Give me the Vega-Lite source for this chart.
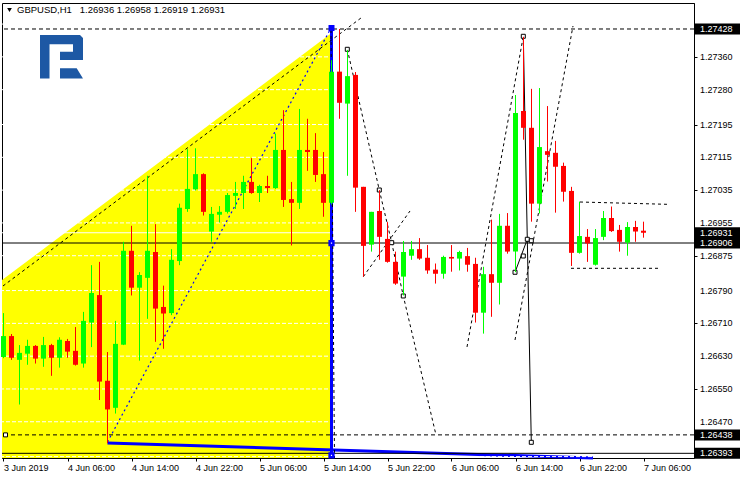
{
  "$schema": "https://vega.github.io/schema/vega-lite/v6.json",
  "width": 692,
  "height": 455,
  "autosize": "none",
  "padding": {"left": 2, "top": 3, "right": 46, "bottom": 22},
  "background": "#ffffff",
  "config": {
    "view": {"stroke": "#000000", "strokeWidth": 1},
    "font": "Liberation Sans"
  },
  "title": {
    "text": "GBPUSD,H1\u00a0\u00a0 1.26936 1.26958 1.26919 1.26931",
    "anchor": "start",
    "frame": "group",
    "offset": 0,
    "dy": 19.5,
    "dx": 15,
    "baseline": "alphabetic",
    "font": "Liberation Sans",
    "fontSize": 9.5,
    "fontWeight": "normal",
    "color": "#000000"
  },
  "datasets": {
    "candles": [
      {"k": 0, "time": "2019-06-03 22:00", "o": 1.26628, "h": 1.26735, "l": 1.26625, "c": 1.26679},
      {"k": 1, "time": "2019-06-03 23:00", "o": 1.26679, "h": 1.26684, "l": 1.26621, "c": 1.26626},
      {"k": 2, "time": "2019-06-04 00:00", "o": 1.26621, "h": 1.26657, "l": 1.26512, "c": 1.26638},
      {"k": 3, "time": "2019-06-04 01:00", "o": 1.26636, "h": 1.26670, "l": 1.26609, "c": 1.26655},
      {"k": 4, "time": "2019-06-04 02:00", "o": 1.26655, "h": 1.26657, "l": 1.26612, "c": 1.26624},
      {"k": 5, "time": "2019-06-04 03:00", "o": 1.26624, "h": 1.26677, "l": 1.26604, "c": 1.26657},
      {"k": 6, "time": "2019-06-04 04:00", "o": 1.26657, "h": 1.26660, "l": 1.26582, "c": 1.26626},
      {"k": 7, "time": "2019-06-04 05:00", "o": 1.26626, "h": 1.26676, "l": 1.26602, "c": 1.26670},
      {"k": 8, "time": "2019-06-04 06:00", "o": 1.26667, "h": 1.26672, "l": 1.26626, "c": 1.26641},
      {"k": 9, "time": "2019-06-04 07:00", "o": 1.26643, "h": 1.26701, "l": 1.26607, "c": 1.26609},
      {"k": 10, "time": "2019-06-04 08:00", "o": 1.26612, "h": 1.26738, "l": 1.26602, "c": 1.26716},
      {"k": 11, "time": "2019-06-04 09:00", "o": 1.26712, "h": 1.26852, "l": 1.26652, "c": 1.26784},
      {"k": 12, "time": "2019-06-04 10:00", "o": 1.26779, "h": 1.26860, "l": 1.26523, "c": 1.26568},
      {"k": 13, "time": "2019-06-04 11:00", "o": 1.26570, "h": 1.26640, "l": 1.26418, "c": 1.26500},
      {"k": 14, "time": "2019-06-04 12:00", "o": 1.26504, "h": 1.26716, "l": 1.26490, "c": 1.26660},
      {"k": 15, "time": "2019-06-04 13:00", "o": 1.26658, "h": 1.26909, "l": 1.26657, "c": 1.26887},
      {"k": 16, "time": "2019-06-04 14:00", "o": 1.26887, "h": 1.26948, "l": 1.26778, "c": 1.26797},
      {"k": 17, "time": "2019-06-04 15:00", "o": 1.26797, "h": 1.26835, "l": 1.26619, "c": 1.26828},
      {"k": 18, "time": "2019-06-04 16:00", "o": 1.26821, "h": 1.27070, "l": 1.26721, "c": 1.26887},
      {"k": 19, "time": "2019-06-04 17:00", "o": 1.26884, "h": 1.26952, "l": 1.26665, "c": 1.26746},
      {"k": 20, "time": "2019-06-04 18:00", "o": 1.26750, "h": 1.26802, "l": 1.26648, "c": 1.26734},
      {"k": 21, "time": "2019-06-04 19:00", "o": 1.26735, "h": 1.26891, "l": 1.26730, "c": 1.26865},
      {"k": 22, "time": "2019-06-04 20:00", "o": 1.26862, "h": 1.27002, "l": 1.26852, "c": 1.26992},
      {"k": 23, "time": "2019-06-04 21:00", "o": 1.26989, "h": 1.27135, "l": 1.26982, "c": 1.27038},
      {"k": 24, "time": "2019-06-04 22:00", "o": 1.27037, "h": 1.27137, "l": 1.27034, "c": 1.27074},
      {"k": 25, "time": "2019-06-04 23:00", "o": 1.27074, "h": 1.27076, "l": 1.26973, "c": 1.26982},
      {"k": 26, "time": "2019-06-05 00:00", "o": 1.26934, "h": 1.26994, "l": 1.26909, "c": 1.26977},
      {"k": 27, "time": "2019-06-05 01:00", "o": 1.26975, "h": 1.26996, "l": 1.26956, "c": 1.26982},
      {"k": 28, "time": "2019-06-05 02:00", "o": 1.26982, "h": 1.27028, "l": 1.26978, "c": 1.27023},
      {"k": 29, "time": "2019-06-05 03:00", "o": 1.27021, "h": 1.27055, "l": 1.26989, "c": 1.27028},
      {"k": 30, "time": "2019-06-05 04:00", "o": 1.27028, "h": 1.27070, "l": 1.26989, "c": 1.27055},
      {"k": 31, "time": "2019-06-05 05:00", "o": 1.27055, "h": 1.27113, "l": 1.27026, "c": 1.27028},
      {"k": 32, "time": "2019-06-05 06:00", "o": 1.27028, "h": 1.27048, "l": 1.27006, "c": 1.27045},
      {"k": 33, "time": "2019-06-05 07:00", "o": 1.27045, "h": 1.27070, "l": 1.27028, "c": 1.27040},
      {"k": 34, "time": "2019-06-05 08:00", "o": 1.27040, "h": 1.27173, "l": 1.27038, "c": 1.27133},
      {"k": 35, "time": "2019-06-05 09:00", "o": 1.27133, "h": 1.27230, "l": 1.26994, "c": 1.27011},
      {"k": 36, "time": "2019-06-05 10:00", "o": 1.27013, "h": 1.27055, "l": 1.26900, "c": 1.27004},
      {"k": 37, "time": "2019-06-05 11:00", "o": 1.27004, "h": 1.27233, "l": 1.26989, "c": 1.27133},
      {"k": 38, "time": "2019-06-05 12:00", "o": 1.27133, "h": 1.27209, "l": 1.27082, "c": 1.27128},
      {"k": 39, "time": "2019-06-05 13:00", "o": 1.27133, "h": 1.27174, "l": 1.27055, "c": 1.27072},
      {"k": 40, "time": "2019-06-05 14:00", "o": 1.27074, "h": 1.27128, "l": 1.26970, "c": 1.27004},
      {"k": 41, "time": "2019-06-05 15:00", "o": 1.27004, "h": 1.27352, "l": 1.27000, "c": 1.27324},
      {"k": 42, "time": "2019-06-05 16:00", "o": 1.27324, "h": 1.27428, "l": 1.27209, "c": 1.27248},
      {"k": 43, "time": "2019-06-05 17:00", "o": 1.27246, "h": 1.27377, "l": 1.27070, "c": 1.27313},
      {"k": 44, "time": "2019-06-05 18:00", "o": 1.27316, "h": 1.27323, "l": 1.26982, "c": 1.27041},
      {"k": 45, "time": "2019-06-05 19:00", "o": 1.27043, "h": 1.27043, "l": 1.26824, "c": 1.26899},
      {"k": 46, "time": "2019-06-05 20:00", "o": 1.26902, "h": 1.26982, "l": 1.26885, "c": 1.26982},
      {"k": 47, "time": "2019-06-05 21:00", "o": 1.26984, "h": 1.27035, "l": 1.26865, "c": 1.26921},
      {"k": 48, "time": "2019-06-05 22:00", "o": 1.26916, "h": 1.26957, "l": 1.26858, "c": 1.26860},
      {"k": 49, "time": "2019-06-05 23:00", "o": 1.26860, "h": 1.26885, "l": 1.26804, "c": 1.26807},
      {"k": 50, "time": "2019-06-06 00:00", "o": 1.26824, "h": 1.26911, "l": 1.26778, "c": 1.26884},
      {"k": 51, "time": "2019-06-06 01:00", "o": 1.26875, "h": 1.26911, "l": 1.26865, "c": 1.26891},
      {"k": 52, "time": "2019-06-06 02:00", "o": 1.26891, "h": 1.26918, "l": 1.26865, "c": 1.26868},
      {"k": 53, "time": "2019-06-06 03:00", "o": 1.26870, "h": 1.26901, "l": 1.26831, "c": 1.26839},
      {"k": 54, "time": "2019-06-06 04:00", "o": 1.26841, "h": 1.26856, "l": 1.26807, "c": 1.26831},
      {"k": 55, "time": "2019-06-06 05:00", "o": 1.26831, "h": 1.26875, "l": 1.26819, "c": 1.26872},
      {"k": 56, "time": "2019-06-06 06:00", "o": 1.26872, "h": 1.26901, "l": 1.26836, "c": 1.26868},
      {"k": 57, "time": "2019-06-06 07:00", "o": 1.26868, "h": 1.26887, "l": 1.26839, "c": 1.26884},
      {"k": 58, "time": "2019-06-06 08:00", "o": 1.26874, "h": 1.26894, "l": 1.26836, "c": 1.26853},
      {"k": 59, "time": "2019-06-06 09:00", "o": 1.26855, "h": 1.26870, "l": 1.26712, "c": 1.26736},
      {"k": 60, "time": "2019-06-06 10:00", "o": 1.26736, "h": 1.26848, "l": 1.26685, "c": 1.26830},
      {"k": 61, "time": "2019-06-06 11:00", "o": 1.26830, "h": 1.26963, "l": 1.26726, "c": 1.26809},
      {"k": 62, "time": "2019-06-06 12:00", "o": 1.26809, "h": 1.26977, "l": 1.26756, "c": 1.26948},
      {"k": 63, "time": "2019-06-06 13:00", "o": 1.26948, "h": 1.26979, "l": 1.26880, "c": 1.26885},
      {"k": 64, "time": "2019-06-06 14:00", "o": 1.26885, "h": 1.27267, "l": 1.26835, "c": 1.27223},
      {"k": 65, "time": "2019-06-06 15:00", "o": 1.27228, "h": 1.27409, "l": 1.27158, "c": 1.27187},
      {"k": 66, "time": "2019-06-06 16:00", "o": 1.27187, "h": 1.27282, "l": 1.26958, "c": 1.27002},
      {"k": 67, "time": "2019-06-06 17:00", "o": 1.27002, "h": 1.27284, "l": 1.26978, "c": 1.27140},
      {"k": 68, "time": "2019-06-06 18:00", "o": 1.27130, "h": 1.27240, "l": 1.27056, "c": 1.27121},
      {"k": 69, "time": "2019-06-06 19:00", "o": 1.27126, "h": 1.27155, "l": 1.26980, "c": 1.27092},
      {"k": 70, "time": "2019-06-06 20:00", "o": 1.27094, "h": 1.27102, "l": 1.27007, "c": 1.27031},
      {"k": 71, "time": "2019-06-06 21:00", "o": 1.27033, "h": 1.27043, "l": 1.26850, "c": 1.26882},
      {"k": 72, "time": "2019-06-06 22:00", "o": 1.26882, "h": 1.27007, "l": 1.26880, "c": 1.26923},
      {"k": 73, "time": "2019-06-06 23:00", "o": 1.26921, "h": 1.26940, "l": 1.26860, "c": 1.26905},
      {"k": 74, "time": "2019-06-07 00:00", "o": 1.26853, "h": 1.26940, "l": 1.26851, "c": 1.26918},
      {"k": 75, "time": "2019-06-07 01:00", "o": 1.26921, "h": 1.26984, "l": 1.26913, "c": 1.26967},
      {"k": 76, "time": "2019-06-07 02:00", "o": 1.26967, "h": 1.26995, "l": 1.26933, "c": 1.26935},
      {"k": 77, "time": "2019-06-07 03:00", "o": 1.26938, "h": 1.26950, "l": 1.26885, "c": 1.26909},
      {"k": 78, "time": "2019-06-07 04:00", "o": 1.26907, "h": 1.26957, "l": 1.26875, "c": 1.26945},
      {"k": 79, "time": "2019-06-07 05:00", "o": 1.26945, "h": 1.26960, "l": 1.26909, "c": 1.26934},
      {"k": 80, "time": "2019-06-07 06:00", "o": 1.26936, "h": 1.26958, "l": 1.26919, "c": 1.26931}
    ],
    "gridLevels": [
      {"p": 1.27440}, {"p": 1.27360}, {"p": 1.27280}, {"p": 1.27195}, {"p": 1.27115},
      {"p": 1.27035}, {"p": 1.26955}, {"p": 1.26875}, {"p": 1.26790}, {"p": 1.26710},
      {"p": 1.26630}, {"p": 1.26550}, {"p": 1.26470}, {"p": 1.26385}
    ],
    "priceScale": [
      {"p": 1.27360, "label": "1.27360"}, {"p": 1.27280, "label": "1.27280"},
      {"p": 1.27195, "label": "1.27195"}, {"p": 1.27115, "label": "1.27115"},
      {"p": 1.27035, "label": "1.27035"}, {"p": 1.26955, "label": "1.26955"},
      {"p": 1.26875, "label": "1.26875"}, {"p": 1.26790, "label": "1.26790"},
      {"p": 1.26710, "label": "1.26710"}, {"p": 1.26630, "label": "1.26630"},
      {"p": 1.26550, "label": "1.26550"}, {"p": 1.26470, "label": "1.26470"}
    ],
    "dashedObjects": [
      {"id": "fan", "k": -0.0625, "p": 1.268012},
      {"id": "fan", "k": 44.9375, "p": 1.274585},
      {"id": "zigzag", "k": 42.975, "p": 1.273785},
      {"id": "zigzag", "k": 46.975, "p": 1.270353},
      {"id": "zigzag", "k": 48.525, "p": 1.269068},
      {"id": "zigzag", "k": 49.975, "p": 1.267768},
      {"id": "zigzag", "k": 54.0625, "p": 1.264378},
      {"id": "cross", "k": 44.975, "p": 1.268238},
      {"id": "cross", "k": 50.8125, "p": 1.269841},
      {"id": "channelA", "k": 57.9375, "p": 1.266524},
      {"id": "channelA", "k": 64.975, "p": 1.274102},
      {"id": "channelB", "k": 63.9375, "p": 1.266694},
      {"id": "channelB", "k": 71.1875, "p": 1.274353},
      {"id": "rangeTop", "k": 72.0625, "p": 1.270060},
      {"id": "rangeTop", "k": 82.9375, "p": 1.270004},
      {"id": "rangeBottom", "k": 70.9375, "p": 1.268443},
      {"id": "rangeBottom", "k": 81.8125, "p": 1.268443},
      {"id": "drop", "k": 40.9375, "p": 1.274256},
      {"id": "drop", "k": 41.375, "p": 1.263816}
    ],
    "solidObjects": [
      {"id": "swing", "k": 64.975, "p": 1.274102},
      {"id": "swing", "k": 65.975, "p": 1.264199},
      {"id": "leg", "k": 63.9375, "p": 1.268346},
      {"id": "leg", "k": 65.475, "p": 1.269151}
    ],
    "anchors": [
      {"k": 42.975, "p": 1.273785},
      {"k": 46.975, "p": 1.270353},
      {"k": 48.525, "p": 1.269068},
      {"k": 49.975, "p": 1.267768},
      {"k": 63.9375, "p": 1.268346},
      {"k": 64.975, "p": 1.268743},
      {"k": 65.475, "p": 1.269151},
      {"k": 65.975, "p": 1.269116},
      {"k": 65.975, "p": 1.264199},
      {"k": 64.975, "p": 1.274102},
      {"k": 0.25, "p": 1.26438}
    ],
    "priceTags": [
      {"p": 1.27428, "label": "1.27428"},
      {"p": 1.26931, "label": "1.26931"},
      {"p": 1.26906, "label": "1.26906"},
      {"p": 1.26438, "label": "1.26438"},
      {"p": 1.26393, "label": "1.26393"}
    ]
  },
  "layer": [
    {
      "description": "yellow triangle zone",
      "data": {"values": [{"k": -0.1875, "p": 1.268155}, {"k": 41, "p": 1.274182}]},
      "mark": {"type": "area", "color": "#ffff00", "opacity": 1},
      "encoding": {
        "x": {"field": "k", "type": "quantitative", "title": null},
        "y": {"field": "p", "type": "quantitative", "title": null},
        "y2": {"datum": 1.263816}
      }
    },
    {
      "description": "thick blue trend line along the bottom",
      "data": {"values": [{"k": 13, "p": 1.264182}, {"k": 73.6875, "p": 1.263816}]},
      "mark": {"type": "line", "color": "#0000ff", "strokeWidth": 3},
      "encoding": {
        "x": {"field": "k", "type": "quantitative", "title": null},
        "y": {"field": "p", "type": "quantitative", "title": null}
      }
    },
    {
      "description": "price grid",
      "data": {"name": "gridLevels"},
      "mark": {"type": "rule", "color": "#ffffff", "strokeWidth": 1, "strokeDash": [4, 2]},
      "encoding": {"y": {"field": "p", "type": "quantitative", "title": null}}
    },
    {
      "description": "bid line",
      "data": {"values": [{"p": 1.26931}]},
      "mark": {"type": "rule", "color": "#ffffff", "strokeWidth": 1},
      "encoding": {"y": {"field": "p", "type": "quantitative", "title": null}}
    },
    {
      "description": "dashed horizontal levels",
      "data": {"values": [{"p": 1.27428}, {"p": 1.26438}]},
      "mark": {"type": "rule", "color": "#000000", "strokeWidth": 1, "strokeDash": [4, 3]},
      "encoding": {"y": {"field": "p", "type": "quantitative", "title": null}}
    },
    {
      "description": "solid horizontal levels",
      "data": {"values": [{"p": 1.26906}, {"p": 1.26393}]},
      "mark": {"type": "rule", "color": "#000000", "strokeWidth": 1},
      "encoding": {"y": {"field": "p", "type": "quantitative", "title": null}}
    },
    {
      "description": "blue dotted trend line",
      "data": {"values": [{"k": 13, "p": 1.264207}, {"k": 40.9375, "p": 1.274304}]},
      "mark": {"type": "line", "color": "#0000ff", "strokeWidth": 1.2, "strokeDash": [2, 3]},
      "encoding": {
        "x": {"field": "k", "type": "quantitative", "title": null},
        "y": {"field": "p", "type": "quantitative", "title": null}
      }
    },
    {
      "description": "blue vertical marker",
      "data": {"values": [{"k": 41, "p": 1.274304}, {"k": 41, "p": 1.263816}]},
      "mark": {"type": "line", "color": "#0000ff", "strokeWidth": 3},
      "encoding": {
        "x": {"field": "k", "type": "quantitative", "title": null},
        "y": {"field": "p", "type": "quantitative", "title": null}
      }
    },
    {
      "description": "dashed analysis lines",
      "data": {"name": "dashedObjects"},
      "mark": {"type": "line", "color": "#000000", "strokeWidth": 1, "strokeDash": [3, 3]},
      "encoding": {
        "x": {"field": "k", "type": "quantitative", "title": null},
        "y": {"field": "p", "type": "quantitative", "title": null},
        "detail": {"field": "id"}
      }
    },
    {
      "description": "solid analysis lines",
      "data": {"name": "solidObjects"},
      "mark": {"type": "line", "color": "#000000", "strokeWidth": 1},
      "encoding": {
        "x": {"field": "k", "type": "quantitative", "title": null},
        "y": {"field": "p", "type": "quantitative", "title": null},
        "detail": {"field": "id"}
      }
    },
    {
      "description": "anchor squares",
      "data": {"name": "anchors"},
      "mark": {"type": "point", "shape": "square", "size": 16, "filled": true, "fill": "#ffffff", "stroke": "#000000", "strokeWidth": 1, "opacity": 1},
      "encoding": {
        "x": {"field": "k", "type": "quantitative", "title": null},
        "y": {"field": "p", "type": "quantitative", "title": null}
      }
    },
    {
      "description": "candle wicks",
      "data": {"name": "candles"},
      "mark": {"type": "rule", "strokeWidth": 1},
      "encoding": {
        "x": {
          "field": "k", "type": "quantitative", "title": null,
          "scale": {"domain": [-0.1875, 86.3125], "nice": false, "zero": false, "padding": 0},
          "axis": {
            "title": null, "grid": false,
            "values": [0, 8, 16, 24, 32, 40, 48, 56, 64, 72, 80],
            "labelExpr": "['3 Jun 2019','4 Jun 06:00','4 Jun 14:00','4 Jun 22:00','5 Jun 06:00','5 Jun 14:00','5 Jun 22:00','6 Jun 06:00','6 Jun 14:00','6 Jun 22:00','7 Jun 06:00'][round(datum.value / 8)]",
            "labelAlign": "left", "labelBaseline": "top", "labelPadding": 2,
            "labelFont": "Liberation Sans", "labelFontSize": 9, "labelColor": "#000000",
            "labelFlush": false, "labelOverlap": false, "labelBound": false,
            "tickSize": 3, "tickColor": "#000000", "domainColor": "#000000"
          }
        },
        "y": {
          "field": "l", "type": "quantitative", "title": null,
          "scale": {"domain": [1.263816, 1.274914], "nice": false, "zero": false, "padding": 0},
          "axis": {
            "orient": "right", "title": null, "grid": false, "labels": false,
            "values": [1.27440, 1.27360, 1.27280, 1.27195, 1.27115, 1.27035, 1.26955, 1.26875, 1.26790, 1.26710, 1.26630, 1.26550, 1.26470, 1.26385],
            "tickSize": 3, "tickColor": "#000000", "domainColor": "#000000"
          }
        },
        "y2": {"field": "h"},
        "color": {"condition": {"test": "datum.c >= datum.o", "value": "#00ff00"}, "value": "#ff0000"}
      }
    },
    {
      "description": "candle bodies",
      "data": {"name": "candles"},
      "mark": {"type": "bar", "size": 5},
      "encoding": {
        "x": {"field": "k", "type": "quantitative", "title": null},
        "y": {"field": "o", "type": "quantitative", "title": null},
        "y2": {"field": "c"},
        "color": {"condition": {"test": "datum.c >= datum.o", "value": "#00ff00"}, "value": "#ff0000"}
      }
    },
    {
      "description": "blue anchor at the top of the vertical marker",
      "data": {"values": [{"k": 41, "p": 1.274304}]},
      "mark": {"type": "point", "shape": "square", "size": 36, "filled": true, "color": "#0000ff", "opacity": 1},
      "encoding": {
        "x": {"field": "k", "type": "quantitative", "title": null},
        "y": {"field": "p", "type": "quantitative", "title": null}
      }
    },
    {
      "description": "blue anchors on the vertical marker",
      "data": {"values": [{"k": 41, "p": 1.26906}, {"k": 41, "p": 1.263878}]},
      "mark": {"type": "point", "shape": "square", "size": 14, "filled": true, "fill": "#ffffff", "stroke": "#0000ff", "strokeWidth": 2.5, "opacity": 1},
      "encoding": {
        "x": {"field": "k", "type": "quantitative", "title": null},
        "y": {"field": "p", "type": "quantitative", "title": null}
      }
    },
    {
      "description": "broker logo",
      "data": {"values": [{"k": 7.25, "p": 1.273603}]},
      "mark": {
        "type": "point", "filled": true, "color": "#1d58a4", "opacity": 1, "size": 1936, "strokeWidth": 0,
        "shape": "M-0.977,-0.989 L0.841,-0.989 L0.977,-0.852 L0.977,0.148 L-0.068,0.148 L-0.068,-0.23 L0.523,-0.23 L0.523,-0.566 L-0.545,-0.566 L-0.545,0.989 L-0.977,0.989 Z M-0.068,0.525 L0.691,0.525 L0.977,0.989 L-0.068,0.989 Z"
      },
      "encoding": {
        "x": {"field": "k", "type": "quantitative", "title": null},
        "y": {"field": "p", "type": "quantitative", "title": null}
      }
    },
    {
      "description": "symbol menu arrow",
      "data": {"values": [{"k": 0.75, "p": 1.274743}]},
      "mark": {"type": "point", "shape": "triangle-down", "size": 22, "filled": true, "color": "#000000", "opacity": 1},
      "encoding": {
        "x": {"field": "k", "type": "quantitative", "title": null},
        "y": {"field": "p", "type": "quantitative", "title": null}
      }
    },
    {
      "description": "price scale labels",
      "data": {"name": "priceScale"},
      "mark": {"type": "text", "color": "#000000", "align": "left", "baseline": "middle", "font": "Liberation Sans", "fontSize": 9},
      "encoding": {
        "y": {"field": "p", "type": "quantitative", "title": null},
        "x": {"datum": 87.05, "type": "quantitative"},
        "text": {"field": "label"}
      }
    },
    {
      "description": "price tag backgrounds",
      "data": {"name": "priceTags"},
      "mark": {"type": "bar", "color": "#000000", "size": 11, "orient": "horizontal"},
      "encoding": {
        "y": {"field": "p", "type": "quantitative", "title": null},
        "x": {"datum": 86.4375, "type": "quantitative"},
        "x2": {"datum": 92.1}
      }
    },
    {
      "description": "price tag text",
      "data": {"name": "priceTags"},
      "mark": {"type": "text", "color": "#ffffff", "align": "left", "baseline": "middle", "font": "Liberation Sans", "fontSize": 9},
      "encoding": {
        "y": {"field": "p", "type": "quantitative", "title": null},
        "x": {"datum": 87.05, "type": "quantitative"},
        "text": {"field": "label"}
      }
    }
  ]
}
